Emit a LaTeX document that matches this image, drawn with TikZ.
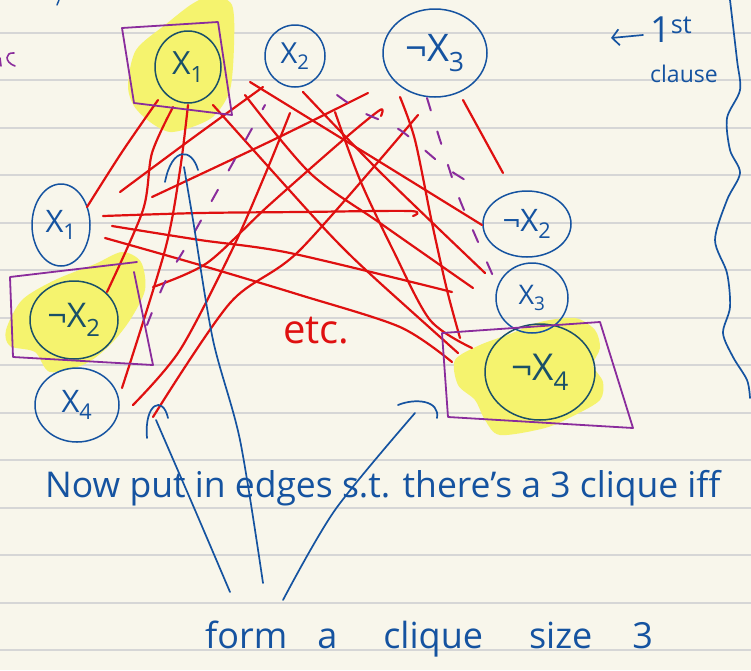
\documentclass[tikz,border=0pt]{standalone}
\usepackage{fontspec}
\setmainfont{Open Sans}
\usetikzlibrary{shapes.geometric,arrows.meta}
\definecolor{paper}{HTML}{F8F6EB}
\definecolor{rulec}{HTML}{D6D6D6}
\definecolor{pen}{HTML}{1553A0}
\definecolor{pendark}{HTML}{1A5068}
\definecolor{redpen}{HTML}{DF1010}
\definecolor{purp}{HTML}{8A2C9C}
\definecolor{hilite}{HTML}{F5F36E}
\begin{document}
\begin{tikzpicture}[x=1pt,y=-1pt,line cap=round,line join=round,
  vnode/.style={ellipse,draw=pen,line width=1.5pt,text=pen,inner sep=0pt},
  hnode/.style={vnode,draw=pendark,text=pendark},
  redline/.style={draw=redpen,line width=2.2pt},
  purpdash/.style={draw=purp,line width=2pt,dash pattern=on 13pt off 22pt},
  bluepen/.style={draw=pen,line width=1.7pt},
  purpbox/.style={draw=purp,line width=1.8pt},
  ruled/.style={draw=rulec,line width=1.2pt},
  hl/.style={fill=hilite,draw=none},
  txt/.style={text=pen,inner sep=0pt}]
\fill[paper] (0,0) rectangle (751,670);
\useasboundingbox (0,0) rectangle (751,670);
\foreach \y in {33,80,128,175,223,270,318,365,413,460,508,555,603,650}
  \draw[ruled] (0,\y) -- (751,\y);

% highlights
\fill[hl] plot[smooth cycle] coordinates {(128,85) (136,50) (165,25) (192,4) (212,-4) (232,5) (234,45) (230,90) (215,115) (195,126) (170,132) (150,122) (134,106)};
\fill[hl] plot[smooth cycle] coordinates {(6,330) (22,300) (55,280) (95,264) (122,252) (141,262) (145,290) (130,320) (110,345) (85,364) (50,372) (35,352) (10,346)};
\fill[hl] plot[smooth cycle] coordinates {(455,360) (480,345) (510,334) (540,322) (575,318) (595,330) (600,348) (593,365) (603,382) (600,400) (575,415) (545,428) (500,435) (485,420) (475,400) (458,385)};

% nodes
\node[hnode,minimum width=66pt,minimum height=72pt] (tx1) at (188,67) {\fontsize{32}{34}\selectfont X\textsubscript{1}};
\node[vnode,minimum width=60pt,minimum height=62pt] (tx2) at (295,56) {\fontsize{29}{31}\selectfont X\textsubscript{2}};
\node[vnode,minimum width=104pt,minimum height=88pt] (tnx3) at (435,53) {\fontsize{38}{40}\selectfont ¬X\textsubscript{3}};
\node[vnode,minimum width=58pt,minimum height=82pt] (lx1) at (61,225) {\fontsize{31}{33}\selectfont X\textsubscript{1}};
\node[hnode,minimum width=88pt,minimum height=78pt] (lnx2) at (74,320) {\fontsize{34}{36}\selectfont ¬X\textsubscript{2}};
\node[vnode,minimum width=84pt,minimum height=74pt] (lx4) at (77,405) {\fontsize{31}{33}\selectfont X\textsubscript{4}};
\node[vnode,minimum width=88pt,minimum height=66pt] (rnx2) at (527,224) {\fontsize{31}{33}\selectfont ¬X\textsubscript{2}};
\node[vnode,minimum width=72pt,minimum height=70pt] (rx3) at (532,298) {\fontsize{27}{29}\selectfont X\textsubscript{3}};
\node[hnode,minimum width=110pt,minimum height=96pt] (rnx4) at (540,372) {\fontsize{37}{39}\selectfont ¬X\textsubscript{4}};

% red edges
\draw[redline] plot[smooth] coordinates {(158,100) (122,152) (87,207)};
\draw[redline] plot[smooth] coordinates {(173,107) (152,153) (143,210) (107,292)};
\draw[redline] plot[smooth] coordinates {(188,105) (180,170) (165,250) (122,388)};
\draw[redline] plot[smooth] coordinates {(213,105) (310,213) (345,250) (380,283) (458,353)};
\draw[redline] plot[smooth] coordinates {(263,87) (190,140) (120,192)};
\draw[redline] plot[smooth] coordinates {(250,82) (380,162) (482,225)};
\draw[redline] plot[smooth] coordinates {(245,95) (310,173) (380,223) (473,288)};
\draw[redline] plot[smooth] coordinates {(290,113) (267,170) (232,250) (180,350) (133,405)};
\draw[redline] plot[smooth] coordinates {(368,93) (273,140) (152,197)};
\draw[redline] plot[smooth] coordinates {(103,216) (200,213) (300,212) (410,211) (413,216)};
\draw[redline] plot[smooth] coordinates {(112,226) (200,240) (290,253) (452,292)};
\draw[redline] plot[smooth] coordinates {(105,238) (200,265) (300,295) (400,327) (452,362)};
\draw[redline] plot[smooth] coordinates {(153,287) (207,263) (267,207) (343,140) (380,110) (381,116)};
\draw[redline] plot[smooth] coordinates {(153,417) (230,303) (300,250) (418,115)};
\draw[redline] plot[smooth] coordinates {(335,112) (360,180) (393,250) (430,320) (472,348)};
\draw[redline] plot[smooth] coordinates {(400,97) (415,140) (432,223) (447,290) (460,338)};
\draw[redline] plot[smooth] coordinates {(303,92) (380,172) (485,273)};
\draw[redline] (463,100) -- (503,173);

% purple dashed
\draw[purpdash] plot[smooth] coordinates {(147,325) (165,282) (190,240) (215,195) (240,150) (265,105)};
\draw[purpdash] plot[smooth] coordinates {(427,98) (440,140) (458,195) (475,235) (497,285)};
\draw[purpdash] plot[smooth] coordinates {(337,95) (362,112) (400,130) (445,167) (482,190)};

% purple boxes
\draw[purpbox] (122,28) -- (218,22) -- (232,115) -- (134,103) -- cycle;
\draw[purpbox] (137,262) -- (10,277) -- (13,357) -- (153,365) -- (134,272);
\draw[purpbox] (442,333) -- (600,322) -- (633,428) -- (448,417) -- cycle;

% texts
\node[txt,anchor=base west] (nowtxt) at (45,497) {\fontsize{35.5}{37}\selectfont Now put in edges s.t. there's a 3 clique iff};
\node[txt,anchor=base west] (formtxt) at (205,648) {\fontsize{36}{38}\selectfont form\hspace{30pt}a\hspace{46pt}clique\hspace{46pt}size\hspace{40pt}3};
\node[txt,text=redpen,anchor=base west] (etctxt) at (283,343) {\fontsize{40}{42}\selectfont etc.};
\node[txt,anchor=west] (firsttxt) at (650,30) {\fontsize{36}{38}\selectfont 1\textsuperscript{st}};
\node[txt,anchor=west] (clausetxt) at (650,74) {\fontsize{23}{25}\selectfont clause};
\coordinate (arrtip) at (611,38);
\draw[bluepen,-{Straight Barb[length=7pt,width=16pt]}] (643,35) -- (arrtip);

% blue arrows
\coordinate (a1s) at (263,583); \coordinate (a1e) at (184,167);
\draw[bluepen] plot[smooth] coordinates {(a1s) (240,440) (213,340) (193,220) (a1e)};
\draw[bluepen] (165,182) .. controls (172,146) and (192,148) .. (198,170);
\coordinate (a2s) at (230,592); \coordinate (a2e) at (156,420);
\draw[bluepen] plot[smooth] coordinates {(a2s) (195,510) (a2e)};
\draw[bluepen] (147,438) .. controls (144,403) and (163,395) .. (168,418);
\coordinate (a3s) at (283,600); \coordinate (a3e) at (415,413);
\draw[bluepen] plot[smooth] coordinates {(a3s) (335,510) (a3e)};
\draw[bluepen] (398,405) .. controls (415,398) and (440,400) .. (437,418);

% right brace
\draw[bluepen] plot[smooth] coordinates {(730,0) (737,60) (740,90) (727,118) (730,150) (740,173) (727,200) (715,240) (727,273) (730,307) (723,333) (733,357) (747,380) (750,398)};

% stray marks at the edges
\draw[purp,line width=1.6pt] (14,53) .. controls (5,52) and (4,62) .. (15,66);
\draw[purp,line width=1.6pt] (0,58) -- (1,66);
\draw[pen,line width=1.4pt] (59,0) -- (57,5);
\end{tikzpicture}
\end{document}
